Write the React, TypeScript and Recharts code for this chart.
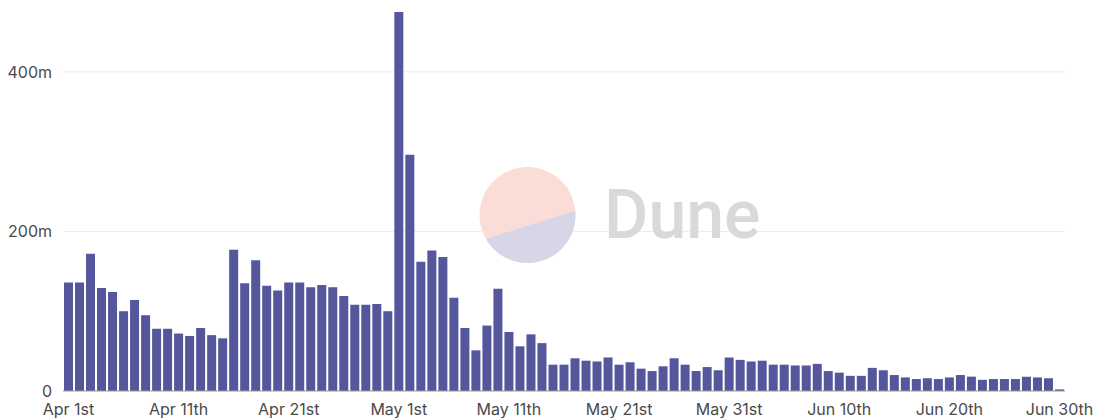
import { BarChart, Bar, XAxis, YAxis, CartesianGrid } from 'recharts'

// daily volume, in millions
const aprilValues = [
  136, 136, 172, 129, 124, 100, 114, 95, 78, 78,
  72, 69, 79, 70, 66, 177, 135, 164, 132, 126,
  136, 136, 130, 133, 130, 119, 108, 108, 109, 100,
]
const mayValues = [
  475, 296, 162, 176, 168, 117, 79, 51, 82, 128,
  74, 56, 71, 60, 33, 33, 41, 38, 37, 42,
  33, 36, 28, 25, 31, 41, 33, 25, 30, 26, 42,
]
const juneValues = [
  39, 37, 38, 33, 33, 32, 32, 34, 25, 23,
  19, 19, 29, 26, 20, 17, 15, 16, 15, 17,
  20, 18, 14, 15, 15, 15, 18, 17, 16, 2,
]
const months = [
  { name: 'Apr', values: aprilValues },
  { name: 'May', values: mayValues },
  { name: 'Jun', values: juneValues },
]
const yTicks = [0, 200, 400]

const suffix = (d: number) => {
  if (d % 10 === 1 && d !== 11) return 'st'
  if (d % 10 === 2 && d !== 12) return 'nd'
  if (d % 10 === 3 && d !== 13) return 'rd'
  return 'th'
}

const data = months.flatMap((m) =>
  m.values.map((v, i) => ({ day: `${m.name} ${i + 1}${suffix(i + 1)}`, volume: v }))
)

const font = 'Inter, "Noto Sans", sans-serif'

const Watermark = () => (
  <svg width={300} height={110} style={{ position: 'absolute', left: 470, top: 160, pointerEvents: 'none' }}>
    <defs>
      <clipPath id="wm">
        <circle cx={57.5} cy={55} r={48} />
      </clipPath>
    </defs>
    <g clipPath="url(#wm)">
      <rect x={0} y={0} width={120} height={110} fill="#fbddd7" />
      <polygon points="0,84 120,46 120,110 0,110" fill="#d6d6e7" />
    </g>
    <text x={134} y={78} fontFamily="Roboto, sans-serif" fontWeight={500} fontSize={68} fill="#d9d9d9">
      Dune
    </text>
  </svg>
)

const App = () => {
  return (
    <div style={{ position: 'absolute', left: 0, top: 0, width: 1094, height: 418, background: '#fff' }}>
      <BarChart
        width={1094}
        height={418}
        data={data}
        margin={{ top: 8, right: 29, bottom: 0, left: 0 }}
        barCategoryGap={1}
      >
        <CartesianGrid vertical={false} horizontalValues={[200, 400]} stroke="#ececec" />
        <XAxis
          dataKey="day"
          interval={9}
          height={27}
          tickLine={false}
          tickMargin={7}
          axisLine={{ stroke: '#9a9a9a' }}
          tick={{ fill: '#4a4a4a', fontSize: 16, fontFamily: font }}
        />
        <YAxis
          width={63}
          domain={[0, 480]}
          ticks={yTicks}
          axisLine={false}
          tickLine={false}
          tickMargin={5}
          tickFormatter={(v: number) => (v === 0 ? '0' : `${v}m`)}
          tick={{ fill: '#4a4a4a', fontSize: 16, fontFamily: font }}
        />
        <Bar dataKey="volume" fill="#55579d" isAnimationActive={false} />
      </BarChart>
      <Watermark />
    </div>
  )
}

export default App
